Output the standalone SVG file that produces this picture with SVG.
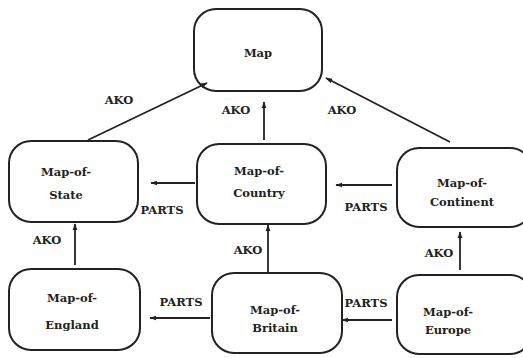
<svg xmlns="http://www.w3.org/2000/svg" width="523" height="358" viewBox="0 0 523 358">
<defs>
<marker id="ah" viewBox="0 0 10 10" refX="9" refY="5" markerWidth="7" markerHeight="7" markerUnits="userSpaceOnUse" orient="auto">
<path d="M0,1.5 L10,5 L0,8.5 Z" fill="#222"/>
</marker>
<style>
.box{fill:#fff;stroke:#222;stroke-width:2}
.t{font-family:'DejaVu Serif','Liberation Serif',serif;font-size:11.5px;font-weight:bold;fill:#222;text-anchor:middle}
.e{stroke:#222;stroke-width:1.8;fill:none;marker-end:url(#ah)}
</style>
</defs>
<rect width="523" height="358" fill="#fff"/>
<g id="map">
<rect class="box" x="194" y="9" width="128" height="82" rx="22"/>
<text class="t" x="258" y="57">Map</text>
</g>
<g id="map-of-state">
<rect class="box" x="9" y="141" width="129" height="81" rx="22"/>
<text class="t" x="66" y="176">Map-of-</text>
<text class="t" x="66" y="199">State</text>
</g>
<g id="map-of-country">
<rect class="box" x="197" y="144" width="129" height="80" rx="22"/>
<text class="t" x="259" y="175">Map-of-</text>
<text class="t" x="259" y="197">Country</text>
</g>
<g id="map-of-continent">
<rect class="box" x="397" y="148" width="135" height="79" rx="22"/>
<text class="t" x="462" y="187">Map-of-</text>
<text class="t" x="462" y="206">Continent</text>
</g>
<g id="map-of-england">
<rect class="box" x="9" y="269" width="131" height="81" rx="22"/>
<text class="t" x="72" y="302">Map-of-</text>
<text class="t" x="72" y="329">England</text>
</g>
<g id="map-of-britain">
<rect class="box" x="212" y="273" width="130" height="80" rx="22"/>
<text class="t" x="275" y="314">Map-of-</text>
<text class="t" x="275" y="332">Britain</text>
</g>
<g id="map-of-europe">
<rect class="box" x="397" y="275" width="135" height="79" rx="22"/>
<text class="t" x="448" y="316">Map-of-</text>
<text class="t" x="448" y="334">Europe</text>
</g>
<g id="connectors">
<line class="e" x1="88" y1="140" x2="207" y2="83"/>
<line class="e" x1="264" y1="140" x2="264" y2="102"/>
<line class="e" x1="450" y1="142" x2="326" y2="78"/>
<line class="e" x1="195" y1="183" x2="151" y2="183"/>
<line class="e" x1="392" y1="185" x2="336" y2="185"/>
<line class="e" x1="75" y1="265" x2="75" y2="224"/>
<line class="e" x1="268" y1="273" x2="268" y2="225"/>
<line class="e" x1="460" y1="270" x2="460" y2="232"/>
<line class="e" x1="210" y1="318" x2="150" y2="318"/>
<line class="e" x1="392" y1="320" x2="342" y2="320"/>
<text class="t" x="119" y="104">AKO</text>
<text class="t" x="236" y="114">AKO</text>
<text class="t" x="342" y="114">AKO</text>
<text class="t" x="162" y="214">PARTS</text>
<text class="t" x="366" y="211">PARTS</text>
<text class="t" x="47" y="244">AKO</text>
<text class="t" x="248" y="254">AKO</text>
<text class="t" x="439" y="257">AKO</text>
<text class="t" x="181" y="306">PARTS</text>
<text class="t" x="366" y="307">PARTS</text>
</g>
</svg>
